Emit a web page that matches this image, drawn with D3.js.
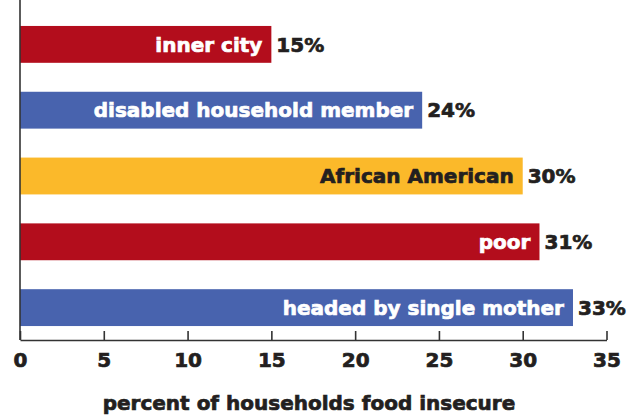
<!DOCTYPE html>
<html><head><meta charset="utf-8">
<script src="https://cdn.jsdelivr.net/npm/d3@7"></script>
<style>body{margin:0;background:#fff}svg{display:block}text{font-family:"DejaVu Sans",sans-serif;font-weight:bold}</style>
</head><body>
<script>
const categories = ["inner city","disabled household member","African American","poor","headed by single mother"];
const values = [15,24,30,31,33];
const barColors = ["#B30D1C","#4863AE","#FBB92A","#B30D1C","#4863AE"];
const labelColors = ["#fff","#fff","#231F20","#fff","#fff"];
const ticks = [0,5,10,15,20,25,30,35];
const xTitle = "percent of households food insecure";

const W=644,H=416;
const svg=d3.select("body").append("svg").attr("width",W).attr("height",H);
const x=d3.scaleLinear().domain([0,35]).range([20,606.5]);
const y=d3.scaleBand().domain(categories).range([-3,355]).padding(0.44);
const axisY=340;

svg.selectAll("rect.bar").data(categories).join("rect").attr("class","bar")
  .attr("x",x(0)).attr("y",d=>y(d)).attr("width",(d,i)=>x(values[i])-x(0))
  .attr("height",y.bandwidth()).attr("fill",(d,i)=>barColors[i]);

svg.selectAll("text.lab").data(categories).join("text").attr("class","lab")
  .attr("x",(d,i)=>x(values[i])-9).attr("y",d=>y(d)+y.bandwidth()/2).attr("dy","0.36em")
  .attr("text-anchor","end").attr("font-size",20).attr("fill",(d,i)=>labelColors[i])
  .attr("stroke",(d,i)=>labelColors[i]).attr("stroke-width",0.7).text(d=>d);

svg.selectAll("text.val").data(categories).join("text").attr("class","val")
  .attr("x",(d,i)=>x(values[i])+5).attr("y",d=>y(d)+y.bandwidth()/2).attr("dy","0.36em")
  .attr("font-size",20).attr("fill","#231F20").attr("stroke","#231F20").attr("stroke-width",0.7)
  .text((d,i)=>values[i]+"%");

// axes
const g=svg.append("g").attr("transform",`translate(0,${axisY})`);
const axis=d3.axisBottom(x).tickValues(ticks).tickSizeInner(-9).tickSizeOuter(0).tickPadding(13);
g.call(axis);
g.select(".domain").attr("stroke","#333").attr("stroke-width",1.6);
g.selectAll(".tick line").attr("stroke","#333").attr("stroke-width",1.6);
g.selectAll(".tick text").attr("font-size",20).attr("fill","#231F20")
  .attr("stroke","#231F20").attr("stroke-width",0.7)
  .attr("font-family","DejaVu Sans").attr("font-weight","bold");
svg.append("line").attr("x1",x(0)).attr("x2",x(0)).attr("y1",0).attr("y2",axisY)
  .attr("stroke","#333").attr("stroke-width",1.6);

svg.append("text").attr("x",309).attr("y",410).attr("text-anchor","middle")
  .attr("font-size",20).attr("fill","#231F20").attr("stroke","#231F20").attr("stroke-width",0.7)
  .text(xTitle);
</script>
</body></html>
